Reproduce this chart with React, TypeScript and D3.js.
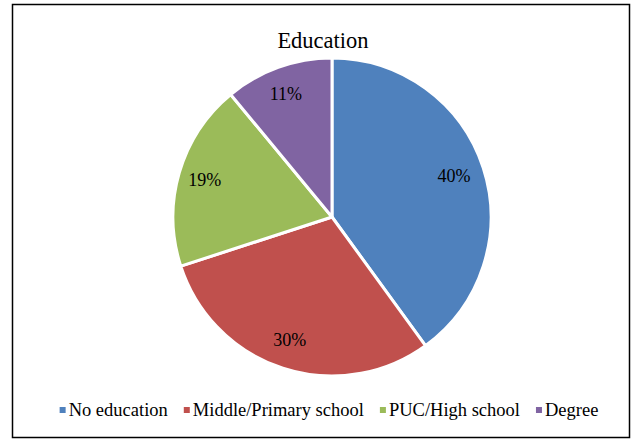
import React, { useEffect, useRef } from "react";
import * as d3 from "d3";

const categories = ["No education", "Middle/Primary school", "PUC/High school", "Degree"];
const values = [40, 30, 19, 11];
const colors = ["#4F81BD", "#C0504D", "#9BBB59", "#8064A2"];
const title = "Education";

const W = 635;
const H = 441;

export default function App() {
  const ref = useRef<SVGSVGElement>(null);

  useEffect(() => {
    const svg = d3.select(ref.current);
    svg.selectAll("*").remove();
    const font = '"Liberation Serif", "DejaVu Serif", serif';

    svg.append("rect").attr("x", 12.5).attr("y", 4.5).attr("width", 617).attr("height", 433)
      .attr("fill", "#fff").attr("stroke", "#000").attr("stroke-width", 1.5);

    svg.append("text").attr("x", 323).attr("y", 48).attr("text-anchor", "middle")
      .attr("font-family", font).attr("font-size", 22.5).attr("fill", "#000").text(title);

    const cx = 332, cy = 217, r = 159;
    const pie = d3.pie<number>().sort(null).value((d) => d);
    const arcs = pie(values);
    const arc = d3.arc<d3.PieArcDatum<number>>().innerRadius(0).outerRadius(r);
    const lr = r * 0.82;
    const labelArc = d3.arc<d3.PieArcDatum<number>>().innerRadius(lr).outerRadius(lr);
    const total = d3.sum(values);

    const g = svg.append("g").attr("transform", `translate(${cx},${cy})`);
    g.selectAll("path").data(arcs).enter().append("path")
      .attr("d", arc as any)
      .attr("fill", (_d, i) => colors[i])
      .attr("stroke", "#fff").attr("stroke-width", 3).attr("stroke-linejoin", "round");

    g.selectAll("text").data(arcs).enter().append("text")
      .attr("transform", (d) => {
        const [x, y] = labelArc.centroid(d);
        return `translate(${x - 2},${y - 1})`;
      })
      .attr("text-anchor", "middle").attr("dy", "0.35em")
      .attr("font-family", font).attr("font-size", 18).attr("fill", "#000")
      .text((d) => `${Math.round((d.value / total) * 100)}%`);

    // legend
    const lg = svg.append("g");
    const fs = 18.5;
    const items = lg.selectAll("g").data(categories).enter().append("g");
    items.append("rect").attr("width", 6).attr("height", 6).attr("y", -3)
      .attr("fill", (_d, i) => colors[i]);
    const texts = items.append("text").attr("x", 9).attr("dy", "0.35em")
      .attr("font-family", font).attr("font-size", fs).attr("fill", "#000")
      .text((d) => d);
    const widths: number[] = [];
    texts.each(function () {
      widths.push((this as SVGTextElement).getComputedTextLength());
    });
    const gap = 16;
    const itemW = widths.map((w) => 9 + w);
    const totalW = d3.sum(itemW) + gap * (itemW.length - 1);
    let x = 329 - totalW / 2;
    items.attr("transform", (_d, i) => {
      const t = `translate(${x},410)`;
      x += itemW[i] + gap;
      return t;
    });
  }, []);

  return (
    <svg ref={ref} width={W} height={H}
      style={{ position: "absolute", left: 0, top: 0, display: "block" }} />
  );
}
